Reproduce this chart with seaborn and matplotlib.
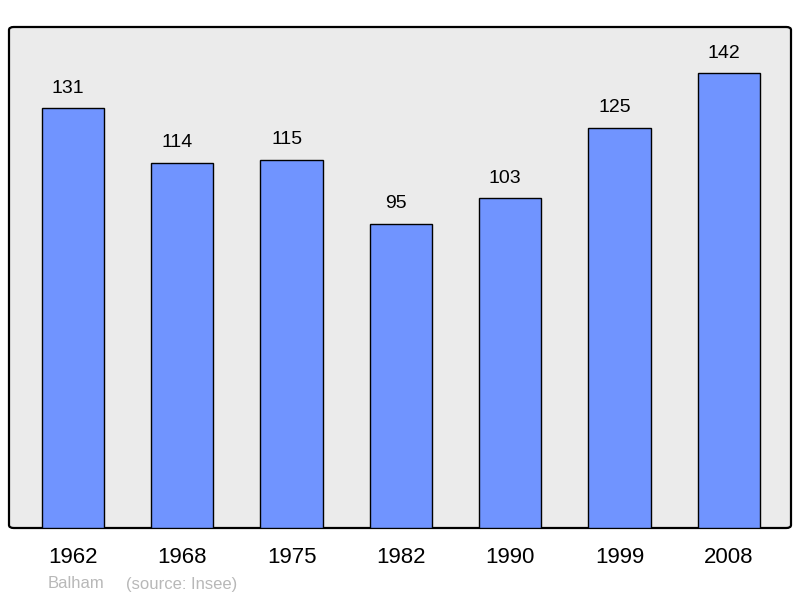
import matplotlib
matplotlib.use("Agg")
import matplotlib.pyplot as plt
import pandas as pd
import seaborn as sns
from matplotlib.patches import FancyBboxPatch

years = ["1962", "1968", "1975", "1982", "1990", "1999", "2008"]
population = [131, 114, 115, 95, 103, 125, 142]
footer_place = "Balham"
footer_source = "(source: Insee)"

sns.set_theme(style="white")
plt.rcParams["font.family"] = ["Liberation Sans", "DejaVu Sans"]

data = pd.DataFrame({"year": years, "population": population})

fig = plt.figure(figsize=(8.0, 5.98), dpi=100)
ax = fig.add_axes([9 / 800, 70 / 598, 782 / 800, 501 / 598])

sns.barplot(
    data=data,
    x="year",
    y="population",
    color="#7094ff",
    saturation=1,
    width=0.57,
    edgecolor="black",
    linewidth=1.0,
    ax=ax,
)

ax.set_xlim(-0.585, 6.57)
ax.set_ylim(0, 156.4)

# value labels sit a little left of the bar centre in the original
for i, v in enumerate(population):
    ax.text(i - 0.045, v + 3.6, str(v), ha="center", va="bottom", fontsize=14, color="black")

# panel background with rounded frame
ax.patch.set_visible(False)
for s in ax.spines.values():
    s.set_visible(False)
panel = FancyBboxPatch(
    (0, 0), 1, 1,
    boxstyle="round,pad=0,rounding_size=0.006",
    transform=ax.transAxes,
    facecolor="#ebebeb",
    edgecolor="black",
    linewidth=1.6,
    zorder=-1,
    clip_on=False,
)
ax.add_patch(panel)

ax.set_xlabel("")
ax.set_ylabel("")
ax.set_yticks([])
ax.tick_params(axis="x", length=0, pad=14, labelsize=16, labelcolor="black")

fig.text(48 / 800, 1 - 584 / 598, footer_place, fontsize=12, color="#b8b8b8", va="center")
fig.text(126 / 800, 1 - 584 / 598, footer_source, fontsize=12, color="#b8b8b8", va="center")

fig.savefig("out.png", dpi=100)
